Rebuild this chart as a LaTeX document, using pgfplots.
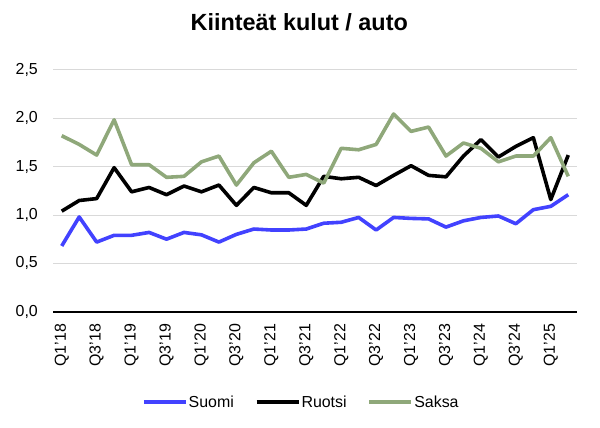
\documentclass[border=0pt]{standalone}
\usepackage{fontspec}
\setmainfont{Liberation Sans}
\usepackage{pgfplots}
\pgfplotsset{compat=1.18}
\usepackage{pgfplotstable}
\definecolor{suomi}{RGB}{66,66,255}
\definecolor{ruotsi}{RGB}{0,0,0}
\definecolor{saksa}{RGB}{143,168,122}
\definecolor{gridgray}{RGB}{217,217,217}

\pgfplotstableread{
x suomi ruotsi saksa
0 0.68 1.04 1.82
1 0.98 1.15 1.73
2 0.72 1.17 1.62
3 0.79 1.49 1.985
4 0.79 1.24 1.52
5 0.82 1.285 1.52
6 0.75 1.21 1.39
7 0.82 1.30 1.40
8 0.795 1.24 1.55
9 0.72 1.31 1.61
10 0.80 1.10 1.31
11 0.855 1.285 1.54
12 0.845 1.23 1.66
13 0.845 1.23 1.39
14 0.855 1.10 1.42
15 0.915 1.40 1.33
16 0.925 1.375 1.69
17 0.975 1.39 1.675
18 0.845 1.305 1.73
19 0.975 1.41 2.045
20 0.965 1.51 1.865
21 0.96 1.41 1.91
22 0.875 1.395 1.61
23 0.94 1.61 1.745
24 0.975 1.78 1.69
25 0.99 1.60 1.55
26 0.91 1.71 1.61
27 1.055 1.80 1.61
28 1.09 1.16 1.80
29 1.21 1.62 1.40
}\datatable

\begin{document}
\begin{tikzpicture}
\useasboundingbox (0,0) rectangle (600bp,428bp);
\begin{axis}[
  at={(53bp,116.3bp)}, anchor=south west,
  scale only axis, width=524bp, height=241.7bp,
  xmin=-0.5, xmax=29.5, ymin=0, ymax=2.5,
  xtick={0,2,...,28},
  xticklabels={Q1'18,Q3'18,Q1'19,Q3'19,Q1'20,Q3'20,Q1'21,Q3'21,Q1'22,Q3'22,Q1'23,Q3'23,Q1'24,Q3'24,Q1'25},
  ytick={0,0.5,1,1.5,2,2.5},
  /pgf/number format/fixed,
  /pgf/number format/fixed zerofill,
  /pgf/number format/precision=1,
  /pgf/number format/use comma,
  /pgf/number format/assume math mode=true,
  major tick length=0pt,
  ymajorgrids, grid style={gridgray, line width=1bp},
  axis x line*=bottom, axis y line*=left,
  x axis line style={-, black, line width=1.6bp},
  y axis line style={draw=none},
  xticklabel style={font=\fontsize{16}{18}\selectfont, rotate=90, anchor=east, inner ysep=0pt, inner xsep=12bp},
  yticklabel style={font=\fontsize{16}{18}\selectfont, anchor=east, inner ysep=0pt, inner xsep=15bp},
  title={Kiinteät kulut / auto},
  title style={font=\bfseries\fontsize{23.5}{26}\selectfont, at={(axis description cs:0.47,1)}, anchor=base, yshift=33.3bp},
  legend style={at={(axis description cs:0.473,-0.3736)}, anchor=center, draw=none, fill=none,
    font=\fontsize{16}{18}\selectfont, inner sep=0pt,
    nodes={inner xsep=1bp, inner ysep=0pt},
    /tikz/every even column/.append style={column sep=20bp}},
  legend columns=3,
  legend image code/.code={\draw[#1] (0bp,0bp) -- (42bp,0bp);},
  every axis plot/.append style={line width=3.6bp, line join=round, no markers},
]
\addplot[suomi] table[x=x, y=suomi] {\datatable};
\addlegendentry{Suomi}
\addplot[ruotsi] table[x=x, y=ruotsi] {\datatable};
\addlegendentry{Ruotsi}
\addplot[saksa] table[x=x, y=saksa] {\datatable};
\addlegendentry{Saksa}
\end{axis}
\end{tikzpicture}
\end{document}
